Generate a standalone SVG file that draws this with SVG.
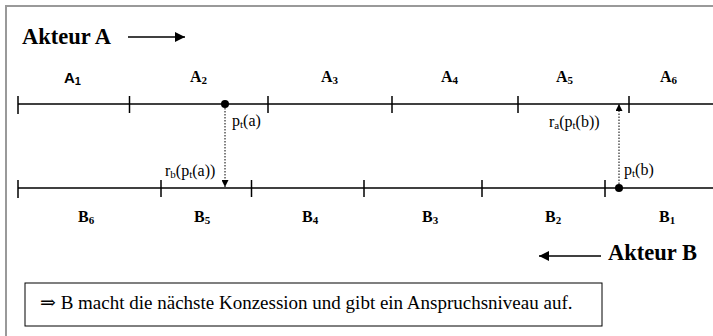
<svg xmlns="http://www.w3.org/2000/svg" width="713" height="336" viewBox="0 0 713 336">
<defs>
<style>
.frame{stroke:#999;stroke-width:2;fill:none}
.axis{stroke:#000;stroke-width:1.5;fill:none}
.tick{stroke:#000;stroke-width:1.5}
.dot{stroke:#000;stroke-width:1;stroke-dasharray:1.5 1.5;fill:none}
.lbl{font-family:"Liberation Serif","Times New Roman",serif;font-weight:bold;font-size:16px;fill:#000}
.lbls{font-family:"Liberation Sans",Arial,sans-serif;font-weight:bold;font-size:15px;fill:#000}
.sm{font-family:"Liberation Serif","Times New Roman",serif;font-size:16px;fill:#000}
.big{font-family:"Liberation Serif","Times New Roman",serif;font-weight:bold;font-size:22.5px;fill:#000}
.note{font-family:"Liberation Serif","Times New Roman","DejaVu Serif",serif;font-size:19px;fill:#000}
.sub{font-size:11px}
</style>
<marker id="ah" viewBox="0 0 10 10" refX="10" refY="5" markerWidth="11" markerHeight="10" markerUnits="userSpaceOnUse" orient="auto"><path d="M0,0 L10,5 L0,10 z" fill="#000"/></marker>
<marker id="ahs" viewBox="0 0 10 10" refX="10" refY="5" markerWidth="7" markerHeight="7" markerUnits="userSpaceOnUse" orient="auto"><path d="M0,0 L10,5 L0,10 z" fill="#000"/></marker>
</defs>
<g id="frame">
<path class="frame" d="M6,336 V6 H713"/>
</g>
<g id="akteurA">
<text class="big" x="22" y="44">Akteur A</text>
</g>
<g id="akteurB">
<text class="big" x="608" y="260">Akteur B</text>
</g>
<g id="axisA">
<line class="axis" x1="18" y1="104" x2="713" y2="104"/>
<line class="tick" x1="18" y1="96" x2="18" y2="114"/>
<line class="tick" x1="129.5" y1="96" x2="129.5" y2="113"/>
<line class="tick" x1="268" y1="96" x2="268" y2="113"/>
<line class="tick" x1="392" y1="96" x2="392" y2="113"/>
<line class="tick" x1="518" y1="96" x2="518" y2="113"/>
<line class="tick" x1="629" y1="96" x2="629" y2="113"/>
<circle cx="225" cy="104" r="4" fill="#000"/>
</g>
<g id="axisB">
<line class="axis" x1="18" y1="188" x2="713" y2="188"/>
<line class="tick" x1="18" y1="180" x2="18" y2="198"/>
<line class="tick" x1="161" y1="180" x2="161" y2="197"/>
<line class="tick" x1="251.5" y1="180" x2="251.5" y2="197"/>
<line class="tick" x1="364" y1="180" x2="364" y2="197"/>
<line class="tick" x1="482" y1="180" x2="482" y2="197"/>
<line class="tick" x1="605" y1="180" x2="605" y2="197"/>
<circle cx="619" cy="188" r="4" fill="#000"/>
</g>
<g id="labelsA">
<text class="lbls" x="64" y="83">A<tspan class="sub" dy="2">1</tspan></text>
<text class="lbl" x="190" y="82">A<tspan class="sub" dy="2">2</tspan></text>
<text class="lbl" x="321" y="82">A<tspan class="sub" dy="2">3</tspan></text>
<text class="lbl" x="441" y="82">A<tspan class="sub" dy="2">4</tspan></text>
<text class="lbl" x="556" y="82">A<tspan class="sub" dy="2">5</tspan></text>
<text class="lbl" x="660" y="82">A<tspan class="sub" dy="2">6</tspan></text>
</g>
<g id="labelsB">
<text class="lbl" x="78" y="222">B<tspan class="sub" dy="2">6</tspan></text>
<text class="lbl" x="194" y="222">B<tspan class="sub" dy="2">5</tspan></text>
<text class="lbl" x="302" y="222">B<tspan class="sub" dy="2">4</tspan></text>
<text class="lbl" x="422" y="222">B<tspan class="sub" dy="2">3</tspan></text>
<text class="lbl" x="545" y="222">B<tspan class="sub" dy="2">2</tspan></text>
<text class="lbl" x="659" y="222">B<tspan class="sub" dy="2">1</tspan></text>
</g>
<g id="pointLabels">
<text class="sm" x="232" y="126">p<tspan class="sub" dy="2">t</tspan><tspan dy="-2">(a)</tspan></text>
<text class="sm" x="165" y="176">r<tspan class="sub" dy="2">b</tspan><tspan dy="-2">(p</tspan><tspan class="sub" dy="2">t</tspan><tspan dy="-2">(a))</tspan></text>
<text class="sm" x="549" y="127">r<tspan class="sub" dy="2">a</tspan><tspan dy="-2">(p</tspan><tspan class="sub" dy="2">t</tspan><tspan dy="-2">(b))</tspan></text>
<text class="sm" x="624" y="175">p<tspan class="sub" dy="2">t</tspan><tspan dy="-2">(b)</tspan></text>
</g>
<g id="connectors">
<line x1="128" y1="37" x2="185" y2="37" stroke="#000" stroke-width="1.5" marker-end="url(#ah)"/>
<line x1="601" y1="256" x2="539" y2="256" stroke="#000" stroke-width="1.5" marker-end="url(#ah)"/>
<line class="dot" x1="225" y1="108" x2="225" y2="187" marker-end="url(#ahs)"/>
<line class="dot" x1="619" y1="184" x2="619" y2="104" marker-end="url(#ahs)"/>
</g>
<g id="note">
<rect x="25" y="283" width="577" height="43" fill="none" stroke="#000" stroke-width="1"/>
<text class="note" x="40" y="309">⇒ B macht die nächste Konzession und gibt ein Anspruchsniveau auf.</text>
</g>
</svg>
